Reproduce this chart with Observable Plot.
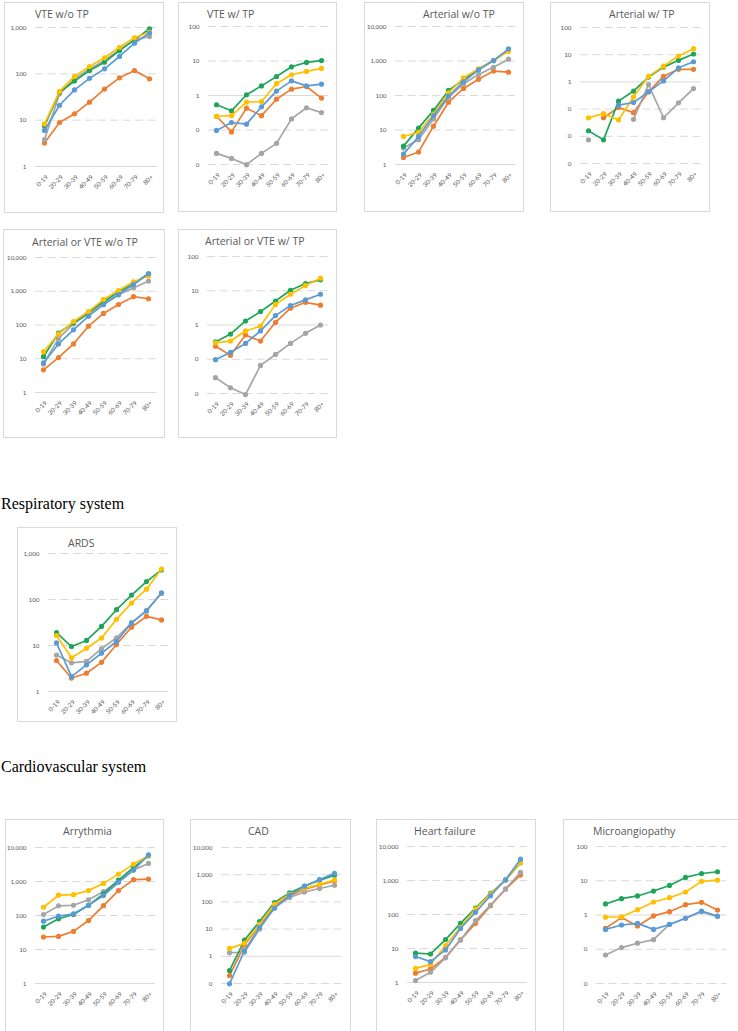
<!DOCTYPE html>
<html><head><meta charset="utf-8">
<script src="https://cdn.jsdelivr.net/npm/d3@7"></script>
<script src="https://cdn.jsdelivr.net/npm/@observablehq/plot@0.6"></script>
<style>
html,body{margin:0;padding:0;background:#fff;}
#page{position:relative;width:738px;height:1031px;overflow:hidden;background:#fff;}
.box{position:absolute;border:1px solid #D9D9D9;box-sizing:border-box;}
.plot{position:absolute;}
.ptitle{position:absolute;font-family:"Open Sans",sans-serif;font-weight:400;font-size:10.5px;color:#595959;white-space:nowrap;line-height:1;}
.section{position:absolute;left:1px;font-family:"Liberation Serif","Times New Roman",serif;font-size:16px;color:#000;line-height:1;white-space:nowrap;}
</style></head><body><div id="page"></div>
<script>
const ages = ["0-19","20-29","30-39","40-49","50-59","60-69","70-79","80+"];
const seriesColors = {blue:"#5B9BD5", orange:"#ED7D31", gray:"#A5A5A5", yellow:"#FFC000", green:"#1FA55A"};
const drawOrder = ["orange","gray","green","yellow","blue"];

const VTE_WO_TP = {
  blue:   [6, 21, 45, 80, 128, 237, 460, 760],
  orange: [3.2, 8.9, 13.7, 24.5, 47, 82, 118, 78],
  gray:   [3.8, 37, 78, 128, 195, 330, 540, 640],
  yellow: [8.3, 42, 88, 144, 222, 375, 600, 800],
  green:  [7.5, 40, 70, 118, 178, 316, 540, 940]
};
const VTE_W_TP = {
  blue:   [0.097, 0.165, 0.148, 0.47, 1.34, 2.66, 1.9, 2.13],
  orange: [0.25, 0.088, 0.43, 0.26, 0.78, 1.53, 1.82, 0.84],
  gray:   [0.021, 0.015, 0.0099, 0.021, 0.041, 0.21, 0.44, 0.32],
  yellow: [0.25, 0.26, 0.64, 0.67, 2.2, 4.0, 5.0, 6.1],
  green:  [0.54, 0.36, 1.05, 1.9, 3.55, 6.8, 9.1, 10.3]
};
const ART_WO_TP = {
  blue:   [2.0, 6.5, 26, 96, 250, 555, 1030, 2250],
  orange: [1.6, 2.3, 12.9, 64, 160, 295, 510, 475],
  gray:   [3.0, 5.2, 21, 90, 218, 405, 660, 1130],
  yellow: [6.5, 8.5, 29, 120, 325, 595, 1030, 1900],
  green:  [3.4, 11.3, 37, 140, 285, 565, 1030, 2100]
};
const ART_W_TP = {
  blue:   [null, null, 0.14, 0.175, 0.43, 1.09, 3.3, 5.5],
  orange: [null, 0.048, 0.115, 0.074, 0.43, 1.6, 2.9, 2.9],
  gray:   [0.0074, null, null, 0.042, 0.8, 0.048, 0.17, 0.57],
  yellow: [0.048, 0.068, 0.040, 0.28, 1.6, 3.8, 8.9, 16.6],
  green:  [0.016, 0.0074, 0.196, 0.46, 1.5, 3.5, 6.2, 10.6]
};
const ART_OR_VTE_WO_TP = {
  blue:   [7.5, 27.5, 72, 183, 400, 790, 1580, 3300],
  orange: [4.7, 10.8, 27.5, 92, 220, 405, 690, 600],
  gray:   [7, 40, 108, 215, 455, 790, 1250, 2000],
  yellow: [16.2, 54, 127, 250, 575, 1050, 1900, 2850],
  green:  [11.5, 58, 116, 230, 500, 950, 1700, 3300]
};
const ART_OR_VTE_W_TP = {
  blue:   [0.097, 0.16, 0.29, 0.67, 1.88, 3.7, 5.4, 7.9],
  orange: [0.24, 0.13, 0.51, 0.34, 1.2, 3.1, 4.6, 3.8],
  gray:   [0.029, 0.0147, 0.0093, 0.066, 0.138, 0.29, 0.57, 1.0],
  yellow: [0.30, 0.34, 0.67, 0.93, 4.0, 7.9, 14.2, 23.3],
  green:  [0.32, 0.545, 1.31, 2.46, 5.0, 10.3, 16.2, 20.8]
};
const ARDS = {
  blue:   [11.4, 2.1, 3.8, 6.8, 12.2, 31, 56, 140],
  orange: [4.7, 1.96, 2.5, 4.3, 10.5, 25, 43, 36],
  gray:   [6.2, 4.2, 4.5, 8.5, 14.7, 31, 58, 135],
  yellow: [16.5, 5.4, 8.7, 14.5, 37, 84, 168, 460],
  green:  [19, 9.5, 12.9, 26, 60, 125, 245, 440]
};
const ARRYTHMIA = {
  blue:   [68, 96, 112, 200, 385, 945, 2170, 6100],
  orange: [23.3, 24.3, 34, 71, 195, 540, 1130, 1180],
  gray:   [107, 192, 200, 290, 505, 1050, 2170, 3400],
  yellow: [175, 395, 410, 540, 880, 1650, 3250, 5700],
  green:  [45.6, 80, 107, 200, 430, 1100, 2600, 5700]
};
const CAD = {
  blue:   [0.097, 1.6, 11.5, 59, 175, 375, 660, 1120],
  orange: [0.196, 2.6, 14, 71, 166, 290, 420, 585],
  gray:   [1.36, 1.4, 10, 62, 145, 232, 310, 410],
  yellow: [1.96, 3.0, 15, 82, 190, 315, 445, 640],
  green:  [0.30, 3.96, 19, 95, 213, 385, 620, 950]
};
const HEART_FAILURE = {
  blue:   [5.8, 4.1, 9.1, 39, 116, 355, 1050, 4250],
  orange: [1.88, 2.5, 5.5, 17.9, 55, 182, 560, 1440],
  gray:   [1.14, 2.0, 5.3, 17.9, 66, 190, 560, 1740],
  yellow: [2.6, 3.4, 12.2, 42, 145, 400, 1030, 3400],
  green:  [7.3, 6.9, 18.3, 55, 155, 417, 1030, 3300]
};
const MICROANGIOPATHY = {
  blue:   [0.38, 0.51, 0.57, 0.38, 0.53, 0.8, 1.3, 0.93],
  orange: [0.41, 0.84, 0.48, 0.94, 1.25, 2.0, 2.34, 1.4],
  gray:   [0.068, 0.112, 0.15, 0.19, 0.53, 0.8, 1.25, 0.9],
  yellow: [0.86, 0.89, 1.43, 2.4, 3.2, 4.7, 9.6, 10.4],
  green:  [2.1, 3.0, 3.6, 5.0, 7.3, 12.5, 16.3, 18.3]
};

const panels = [
  {title:"VTE w/o TP", data:VTE_WO_TP, dom:[1,1000], box:[4,2,164,213], px:[35,157], yTop:27, yBot:166, tx:35, tb:19.5},
  {title:"VTE w/ TP", data:VTE_W_TP, dom:[0.01,100], box:[178,2,337,212], px:[208,328], yTop:26, yBot:164, tx:207, tb:19.5},
  {title:"Arterial w/o TP", data:ART_WO_TP, dom:[1,10000], box:[364,2,524,212], px:[395,515], yTop:26, yBot:164, tx:423, tb:19.5},
  {title:"Arterial w/ TP", data:ART_W_TP, dom:[0.001,100], box:[550,2,710,212], px:[580,701], yTop:27, yBot:163, tx:609, tb:19.5},
  {title:"Arterial or VTE w/o TP", data:ART_OR_VTE_WO_TP, dom:[1,10000], box:[3,229,165,438], px:[35,156], yTop:257, yBot:392, tx:32, tb:248},
  {title:"Arterial or VTE w/ TP", data:ART_OR_VTE_W_TP, dom:[0.01,100], box:[178,229,337,438], px:[207,328], yTop:256, yBot:393, tx:205, tb:247},
  {title:"ARDS", data:ARDS, dom:[1,1000], box:[17,527,177,722], px:[48,168], yTop:553, yBot:691, tx:68, tb:549},
  {title:"Arrythmia", data:ARRYTHMIA, dom:[1,10000], box:[5,819,164,1045], px:[35,155], yTop:847, yBot:983, tx:63, tb:837},
  {title:"CAD", data:CAD, dom:[0.1,10000], box:[190,819,351,1045], px:[221,341], yTop:847, yBot:983, tx:248, tb:837},
  {title:"Heart failure", data:HEART_FAILURE, dom:[1,10000], box:[376,819,536,1045], px:[407,527], yTop:846, yBot:982, tx:414, tb:837},
  {title:"Microangiopathy", data:MICROANGIOPATHY, dom:[0.01,100], box:[563,819,745,1045], px:[596,726], yTop:846, yBot:983, tx:593, tb:837}
];

const sections = [
  {text:"Respiratory system", baseline:509},
  {text:"Cardiovascular system", baseline:772}
];

const page = document.getElementById("page");
const fmt = d3.format(",.0f");

function addDiv(cls, css, text) {
  const d = document.createElement("div");
  d.className = cls;
  Object.assign(d.style, css);
  if (text != null) d.textContent = text;
  page.appendChild(d);
  return d;
}

for (const s of sections) {
  addDiv("section", {top: (s.baseline - 13.4) + "px"}, s.text);
}

for (const cfg of panels) {
  const [bl, bt, br, bb] = cfg.box;
  const W = br - bl, H = bb - bt;
  addDiv("box", {left: bl + "px", top: bt + "px", width: W + "px", height: H + "px"});
  const decades = [];
  const e0 = Math.round(Math.log10(cfg.dom[0])), e1 = Math.round(Math.log10(cfg.dom[1]));
  for (let e = e0; e <= e1; e++) decades.push(Math.pow(10, e));
  const marks = [
    Plot.ruleY(decades.filter(d => d !== 1), {y: d => d, stroke: "#D9D9D9", strokeWidth: 1, strokeDasharray: "8,4.5"}),
    Plot.ruleY(decades.filter(d => d === 1), {y: d => d, stroke: "#D9D9D9", strokeWidth: 1}),
    Plot.text(decades, {y: d => d, text: d => fmt(d), frameAnchor: "left", dx: -9, textAnchor: "end", fill: "#595959", fontSize: 6.3}),
    Plot.text(ages, {x: d => d, text: d => d, frameAnchor: "bottom", dx: 4, dy: 11, rotate: -45, textAnchor: "end", fill: "#595959", fontSize: 6.3})
  ];
  for (const s of drawOrder) {
    const rows = ages.map((a, i) => ({age: a, v: cfg.data[s][i]}));
    marks.push(Plot.line(rows, {x: "age", y: "v", stroke: seriesColors[s], strokeWidth: 1.7}));
    marks.push(Plot.dot(rows.filter(r => r.v != null), {x: "age", y: "v", r: 2.6, fill: seriesColors[s], stroke: "none"}));
  }
  const svg = Plot.plot({
    width: W, height: H,
    marginLeft: cfg.px[0] - bl, marginRight: br - cfg.px[1],
    marginTop: cfg.yTop - bt, marginBottom: bb - cfg.yBot,
    x: {type: "point", domain: ages, padding: 0.5, axis: null, label: null},
    y: {type: "log", domain: cfg.dom, axis: null, label: null},
    style: {fontFamily: "Lato, sans-serif", background: "transparent", overflow: "visible"},
    marks
  });
  svg.classList.add("plot");
  svg.style.position = "absolute";
  svg.style.left = bl + "px";
  svg.style.top = bt + "px";
  page.appendChild(svg);
  addDiv("ptitle", {left: cfg.tx + "px", top: (cfg.tb - 10.7) + "px"}, cfg.title);
}
</script>
</body></html>
